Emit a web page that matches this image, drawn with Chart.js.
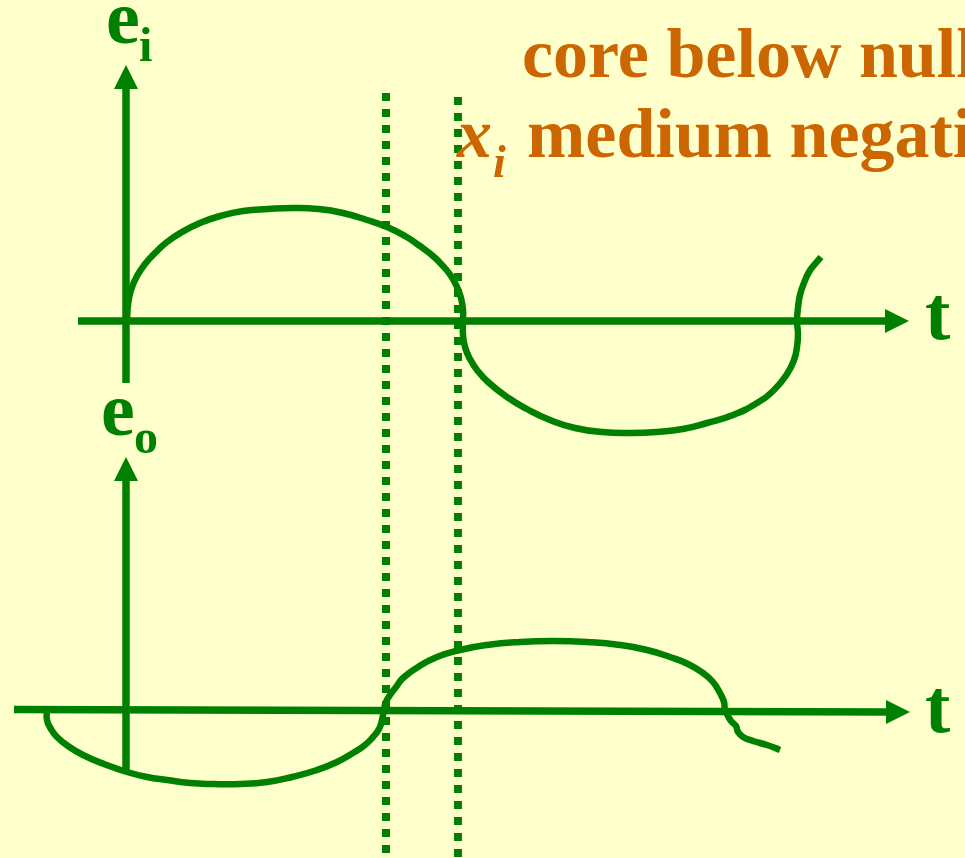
<!DOCTYPE html>
<html>
<head>
<meta charset="utf-8">
<script src="https://cdn.jsdelivr.net/npm/chart.js@4.4.0/dist/chart.umd.min.js"></script>
<style>
  html, body { margin: 0; padding: 0; background: #FFFFCC; overflow: hidden; }
  #wrap { width: 965px; height: 858px; }
</style>
</head>
<body>
<div id="wrap"><canvas id="chart" width="965" height="858"></canvas></div>
<script>
// t = 0 sits on the vertical e axes
const inputT = [1, 2, 5, 11, 19, 29, 41, 56, 74, 94, 117, 142, 167, 192, 217, 241, 261, 279, 294, 307, 317, 325, 331, 335, 337,
  337, 337, 339, 344, 351, 362, 381, 401, 424, 449, 476, 504, 531, 557, 581, 607, 631, 648, 661, 668, 671, 672,
  671, 672, 674, 678, 683, 689, 695];
const inputE = [0, 16, 31, 45, 57, 68, 79, 89, 98, 105, 110, 112, 113, 112, 108, 101, 94, 85, 75, 65, 55, 45, 34, 23, 11,
  0, -14, -26, -38, -49, -61, -76, -88, -99, -107, -111, -112, -111, -108, -102, -94, -82, -69, -53, -39, -26, -13,
  0, 13, 26, 38, 49, 57, 64];

const outputT = [-79, -79, -75, -69, -58, -43, -22, 1, 21, 41, 64, 87, 114, 141, 166, 191, 211, 227, 239, 247, 253, 256, 258,
  260, 264, 270, 277, 292, 311, 334, 361, 394, 427, 461, 494, 521, 544, 562, 577, 587, 594, 598, 599,
  602, 605, 610, 612, 617, 627, 641, 654];
const outputE = [1, -10, -19, -27, -36, -45, -54, -62, -67, -70, -73, -74, -74, -72, -67, -60, -52, -43, -35, -27, -19, -10, 0,
  8, 15, 23, 32, 43, 53, 60, 65, 68, 69, 68, 65, 60, 53, 46, 37, 28, 17, 8, 0,
  -6, -11, -16, -22, -27, -31, -35, -40];

// dotted markers (null crossing / zero crossing), on the e_i scale
const markerT = [260, 332];
const markerTop = [228, 224];
const markerBottom = -537;

// axis extents
const inAxisT = [-48, 783];
const inAxisE = [-62, 256];
const outAxisT = [-112, 784];
const outAxisTiltE = [0.5, -2];
const outAxisE = [-62, 253];

const GREEN = '#008000';
const ORANGE = '#CC6600';
const SERIF = '"Liberation Serif", "Times New Roman", serif';

function pts(xs, ys) {
  return xs.map((v, i) => ({ x: v, y: ys[i] }));
}

const datasets = [
  {
    label: 'e_i',
    data: pts(inputT, inputE),
    yAxisID: 'yi',
    borderColor: GREEN,
    borderWidth: 6.5,
    tension: 0.5,
    showLine: true,
    pointRadius: 0,
    borderCapStyle: 'butt'
  },
  {
    label: 'e_o',
    data: pts(outputT, outputE),
    yAxisID: 'yo',
    borderColor: GREEN,
    borderWidth: 6.5,
    tension: 0.5,
    showLine: true,
    pointRadius: 0,
    borderCapStyle: 'butt'
  }
];

markerT.forEach((t, i) => {
  datasets.push({
    label: 'marker' + i,
    data: [{ x: t, y: markerTop[i] }, { x: t, y: markerBottom }],
    yAxisID: 'yi',
    borderColor: GREEN,
    borderWidth: 8,
    borderDash: [8, 8],
    borderCapStyle: 'butt',
    showLine: true,
    pointRadius: 0
  });
});

function arrowUp(ctx, x, yTip) {
  ctx.beginPath();
  ctx.moveTo(x, yTip);
  ctx.lineTo(x - 12, yTip + 24);
  ctx.lineTo(x + 12, yTip + 24);
  ctx.closePath();
  ctx.fill();
}

function arrowRight(ctx, xTip, y) {
  ctx.beginPath();
  ctx.moveTo(xTip, y);
  ctx.lineTo(xTip - 24, y - 12);
  ctx.lineTo(xTip - 24, y + 12);
  ctx.closePath();
  ctx.fill();
}

const axesPlugin = {
  id: 'sketchAxes',
  beforeDatasetsDraw(chart) {
    const ctx = chart.ctx;
    const x = chart.scales.x, yi = chart.scales.yi, yo = chart.scales.yo;
    ctx.save();
    ctx.strokeStyle = GREEN;
    ctx.fillStyle = GREEN;
    ctx.lineWidth = 7.5;
    ctx.lineCap = 'butt';

    const x0 = x.getPixelForValue(0);

    // upper panel
    let yb = yi.getPixelForValue(inAxisE[0]), yt = yi.getPixelForValue(inAxisE[1]);
    ctx.beginPath(); ctx.moveTo(x0, yb); ctx.lineTo(x0, yt + 20); ctx.stroke();
    arrowUp(ctx, x0, yt);
    let yz = yi.getPixelForValue(0);
    let xl = x.getPixelForValue(inAxisT[0]), xr = x.getPixelForValue(inAxisT[1]);
    ctx.beginPath(); ctx.moveTo(xl, yz); ctx.lineTo(xr - 20, yz); ctx.stroke();
    arrowRight(ctx, xr, yz);

    // lower panel
    yb = yo.getPixelForValue(outAxisE[0]); yt = yo.getPixelForValue(outAxisE[1]);
    ctx.beginPath(); ctx.moveTo(x0, yb); ctx.lineTo(x0, yt + 20); ctx.stroke();
    arrowUp(ctx, x0, yt);
    xl = x.getPixelForValue(outAxisT[0]); xr = x.getPixelForValue(outAxisT[1]);
    const yL = yo.getPixelForValue(outAxisTiltE[0]), yR = yo.getPixelForValue(outAxisTiltE[1]);
    ctx.beginPath(); ctx.moveTo(xl, yL); ctx.lineTo(xr - 20, yR); ctx.stroke();
    arrowRight(ctx, xr, yR);
    ctx.restore();
  },
  afterDraw(chart) {
    const ctx = chart.ctx;
    ctx.save();
    ctx.textBaseline = 'alphabetic';
    ctx.textAlign = 'left';

    // axis names
    ctx.fillStyle = GREEN;
    ctx.font = 'bold 76px ' + SERIF;
    ctx.fillText('e', 106, 43);
    ctx.fillText('e', 101, 435);
    ctx.fillText('t', 925, 339);
    ctx.fillText('t', 925, 732);
    ctx.font = 'bold 48px ' + SERIF;
    ctx.fillText('i', 139, 61);
    ctx.fillText('o', 134, 453);

    // caption
    ctx.fillStyle = ORANGE;
    ctx.font = 'bold 70px ' + SERIF;
    ctx.fillText('core below null', 522, 77);
    ctx.fillText('medium negative', 527, 157);
    ctx.font = 'italic bold 70px ' + SERIF;
    ctx.fillText('x', 457, 157);
    ctx.font = 'italic bold 46px ' + SERIF;
    ctx.fillText('i', 493, 177);
    ctx.restore();
  }
};

new Chart(document.getElementById('chart').getContext('2d'), {
  type: 'scatter',
  data: { datasets },
  options: {
    responsive: false,
    animation: false,
    devicePixelRatio: 1,
    layout: { padding: 0 },
    plugins: {
      legend: { display: false },
      tooltip: { enabled: false }
    },
    scales: {
      x: { type: 'linear', min: -126, max: 839, display: false },
      yi: { type: 'linear', min: -537, max: 321, display: false },
      yo: { type: 'linear', min: -148, max: 710, display: false }
    }
  },
  plugins: [axesPlugin]
});
</script>
</body>
</html>
